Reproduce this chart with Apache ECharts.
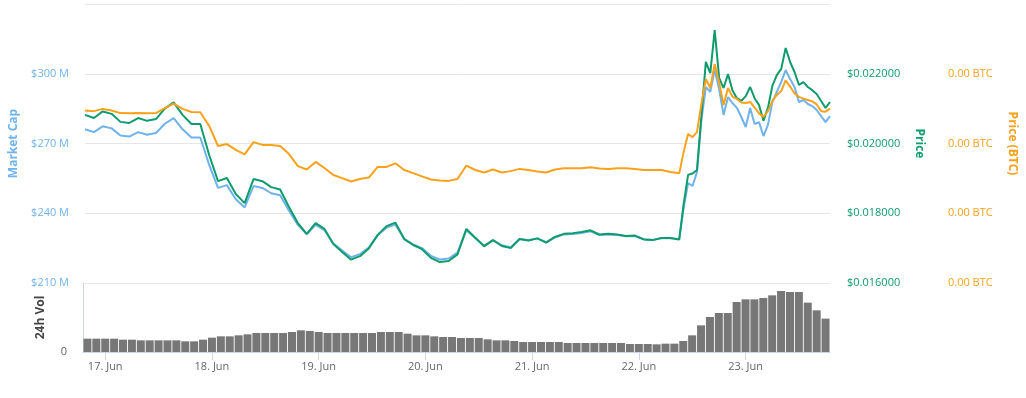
<!DOCTYPE html>
<html>
<head>
<meta charset="utf-8">
<script src="https://cdn.jsdelivr.net/npm/echarts@6/dist/echarts.min.js"></script>
<style>
  html, body { margin: 0; padding: 0; background: #fff; }
  #chart { width: 1026px; height: 398px; }
</style>
</head>
<body>
<div id="chart"></div>
<script>
// hours relative to 17 Jun 00:00 (2-hourly, then hourly across the pump)
const sampleHours = [];
for (let h = -5; h < 129; h += 2) sampleHours.push(h);
for (let h = 129; h <= 163; h++) sampleHours.push(h);

const dayTicks = [0, 24, 48, 72, 96, 120, 144];
const dayLabels = ['17. Jun', '18. Jun', '19. Jun', '20. Jun', '21. Jun', '22. Jun', '23. Jun'];

// market cap, $M
const marketCap = [
  276.1, 274.9, 277.4, 276.5, 273.4, 273.0, 274.9, 273.8, 274.5, 278.5,
  280.9, 276.1, 272.6, 272.6, 260.8, 250.9, 252.1, 246.0, 242.5, 251.7,
  250.9, 248.6, 247.7, 241.1, 235.0, 230.9, 235.0, 232.7, 227.0, 224.0,
  221.1, 222.4, 225.3, 230.5, 233.8, 235.1, 228.9, 226.6, 225.0, 221.7,
  220.1, 220.5, 223.1, 232.7, 229.4, 226.1, 228.5, 226.2, 225.4, 228.9,
  228.4, 229.2, 227.6, 229.7, 230.9, 231.1, 231.5, 232.2, 230.6, 230.9,
  230.6, 230.1, 230.2, 228.8, 228.5, 229.3, 229.3, 228.8,
  242.3, 253.0, 251.7, 257.7, 280.1, 294.3, 292.2, 301.6, 293.4, 282.3,
  290.0, 287.4, 285.3, 281.4, 277.1, 285.3, 278.4, 279.2, 273.2, 278.0,
  287.8, 292.2, 296.5, 301.6, 297.7, 294.3, 287.8, 288.7, 287.0, 286.1,
  284.4, 281.8, 279.2, 281.8
];

// price, USD
const priceUsd = [
  0.02082, 0.02073, 0.02092, 0.02085, 0.02062, 0.02059, 0.02073, 0.02065, 0.02070, 0.02100,
  0.02118, 0.02082, 0.02056, 0.02056, 0.01967, 0.01892, 0.01901, 0.01855, 0.01829, 0.01898,
  0.01892, 0.01875, 0.01868, 0.01818, 0.01772, 0.01741, 0.01772, 0.01755, 0.01712, 0.01689,
  0.01667, 0.01677, 0.01699, 0.01738, 0.01763, 0.01773, 0.01726, 0.01709, 0.01697, 0.01672,
  0.01660, 0.01663, 0.01682, 0.01755, 0.01730, 0.01705, 0.01723, 0.01706, 0.01700, 0.01726,
  0.01722, 0.01728, 0.01716, 0.01732, 0.01741, 0.01743, 0.01746, 0.01751, 0.01739, 0.01741,
  0.01739, 0.01735, 0.01736, 0.01725, 0.01723, 0.01729, 0.01729, 0.01725,
  0.01827, 0.01910, 0.01914, 0.01924, 0.02079, 0.02234, 0.02202, 0.02325, 0.02188, 0.02159,
  0.02199, 0.02153, 0.02130, 0.02122, 0.02136, 0.02162, 0.02130, 0.02110, 0.02065, 0.02102,
  0.02165, 0.02196, 0.02214, 0.02274, 0.02234, 0.02205, 0.02168, 0.02176, 0.02162, 0.02153,
  0.02142, 0.02122, 0.02102, 0.02119
];

// price in BTC, satoshi
const priceSat = [
  321.8, 321.6, 322.4, 321.8, 320.9, 320.8, 320.9, 320.8, 320.9, 322.7,
  324.3, 322.4, 321.3, 321.2, 316.3, 309.1, 309.8, 307.7, 306.1, 310.5,
  309.5, 309.5, 309.1, 306.2, 301.9, 300.7, 303.4, 301.2, 298.7, 297.6,
  296.4, 297.3, 297.8, 301.6, 301.6, 302.9, 300.5, 299.4, 298.2, 297.1,
  296.7, 296.6, 297.3, 302.1, 300.5, 299.6, 300.7, 299.6, 300.1, 300.9,
  300.5, 300.0, 299.6, 300.7, 301.1, 301.1, 301.1, 301.5, 301.0, 300.9,
  301.1, 301.1, 300.9, 300.5, 300.5, 300.5, 299.8, 299.3,
  307.0, 313.4, 312.3, 314.1, 324.2, 333.1, 329.9, 338.5, 332.0, 323.8,
  329.9, 326.8, 326.0, 324.7, 324.5, 324.9, 322.9, 320.8, 319.5, 321.6,
  325.2, 327.4, 328.8, 332.6, 330.4, 327.9, 326.7, 326.1, 325.6, 325.1,
  324.0, 321.6, 321.4, 322.5
];

// 24h volume, $M, one bar per 2 hours from -5h
const volume = [
  4.0, 4.0, 4.0, 4.0, 3.7, 3.7, 3.5, 3.5, 3.5,
  3.5, 3.5, 3.2, 3.2, 3.7, 4.3, 4.7, 4.7, 5.0, 5.3,
  5.7, 5.7, 5.7, 5.7, 6.0, 6.5, 6.3, 6.0, 5.7, 5.7,
  5.7, 5.7, 5.7, 5.7, 6.0, 6.0, 6.0, 5.5, 5.0, 5.0,
  4.7, 4.5, 4.5, 4.2, 4.2, 4.2, 3.8, 3.5, 3.5, 3.3,
  3.0, 3.0, 3.0, 3.0, 3.0, 2.7, 2.7, 2.7, 2.7, 2.7,
  2.7, 2.7, 2.4, 2.4, 2.4, 2.3, 2.5, 2.5, 3.3, 5.0,
  8.0, 10.5, 11.7, 11.7, 15.0, 15.8, 15.8, 16.2, 17.0, 18.3,
  18.0, 18.0, 14.8, 12.5, 10.0
];

const pairs = (vals) => vals.map((v, i) => [sampleHours[i], v]);
const volPairs = volume.map((v, i) => [-4 + 2 * i, v]);

const chart = echarts.init(document.getElementById('chart'));
const axisGrey = '#ccd6eb';
const blue = '#6fb3ea';
const green = '#0e9c6c';
const orange = '#f9a11b';

chart.setOption({
  animation: false,
  textStyle: { fontFamily: 'Open Sans' },
  grid: [
    { left: 83, right: 196, top: 4, height: 279 },
    { left: 83, right: 196, top: 283, height: 69 }
  ],
  xAxis: [
    { type: 'value', gridIndex: 0, min: -5, max: 163, show: false },
    {
      type: 'value', gridIndex: 1, min: -5, max: 163,
      axisLine: { onZero: false, lineStyle: { color: axisGrey } },
      axisTick: { customValues: dayTicks, length: 8, lineStyle: { color: axisGrey } },
      axisLabel: {
        customValues: dayTicks, color: '#666', fontSize: 11, margin: 9,
        formatter: v => dayLabels[dayTicks.indexOf(v)]
      },
      splitLine: { show: false }
    }
  ],
  yAxis: [
    {
      type: 'value', gridIndex: 0, position: 'left', min: 210, max: 330, interval: 30,
      name: 'Market Cap', nameLocation: 'middle', nameGap: 65, nameMoveOverlap: false,
      nameTextStyle: { color: blue, fontWeight: 'bold', fontSize: 12 },
      axisLine: { show: false }, axisTick: { show: false },
      axisLabel: { color: blue, fontSize: 11, margin: 16, showMaxLabel: false, formatter: v => '$' + v + ' M' },
      splitLine: { lineStyle: { color: '#e6e6e6' } }
    },
    {
      type: 'value', gridIndex: 0, position: 'right', min: 0.016, max: 0.024, interval: 0.002,
      name: 'Price', nameLocation: 'middle', nameGap: 83, nameRotate: -90, nameMoveOverlap: false,
      nameTextStyle: { color: green, fontWeight: 'bold', fontSize: 12 },
      axisLine: { show: false }, axisTick: { show: false },
      axisLabel: { color: green, fontSize: 11, margin: 17, showMaxLabel: false, formatter: v => '$' + v.toFixed(6) },
      splitLine: { show: false }
    },
    {
      type: 'value', gridIndex: 0, position: 'right', offset: 101, min: 260, max: 360, interval: 25,
      name: 'Price (BTC)', nameLocation: 'middle', nameGap: 75, nameRotate: -90, nameMoveOverlap: false,
      nameTextStyle: { color: orange, fontWeight: 'bold', fontSize: 12 },
      axisLine: { show: false }, axisTick: { show: false },
      axisLabel: { color: orange, fontSize: 11, margin: 17, showMaxLabel: false, formatter: v => (v / 1e8).toFixed(2) + ' BTC' },
      splitLine: { show: false }
    },
    {
      type: 'value', gridIndex: 1, position: 'left', min: 0, max: 20.7,
      name: '24h Vol', nameLocation: 'middle', nameGap: 36, nameMoveOverlap: false,
      nameTextStyle: { color: '#444', fontWeight: 'bold', fontSize: 12 },
      axisLine: { show: true, onZero: false, lineStyle: { color: axisGrey } }, axisTick: { show: false },
      axisLabel: { customValues: [0], color: '#666', fontSize: 11, margin: 16 },
      splitLine: { show: false }
    }
  ],
  series: [
    {
      name: 'Market Cap', type: 'line', xAxisIndex: 0, yAxisIndex: 0, data: pairs(marketCap),
      showSymbol: false, lineStyle: { color: blue, width: 2 }, itemStyle: { color: blue }, z: 2
    },
    {
      name: 'Price', type: 'line', xAxisIndex: 0, yAxisIndex: 1, data: pairs(priceUsd),
      showSymbol: false, lineStyle: { color: green, width: 2 }, itemStyle: { color: green }, z: 3
    },
    {
      name: 'Price (BTC)', type: 'line', xAxisIndex: 0, yAxisIndex: 2, data: pairs(priceSat),
      showSymbol: false, lineStyle: { color: orange, width: 2 }, itemStyle: { color: orange }, z: 4
    },
    {
      name: '24h Vol', type: 'bar', xAxisIndex: 1, yAxisIndex: 3, data: volPairs,
      barWidth: 8, itemStyle: { color: '#777' }
    }
  ]
});

window.addEventListener('resize', function () {
  chart.resize();
});
</script>
</body>
</html>
